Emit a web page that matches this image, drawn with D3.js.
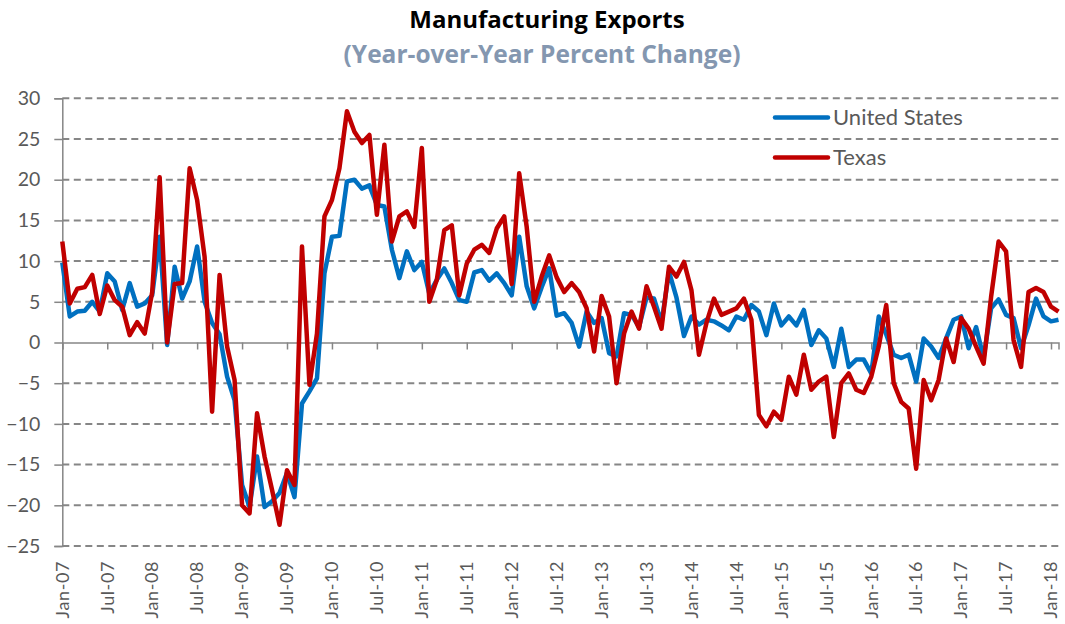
<!DOCTYPE html>
<html>
<head>
<meta charset="utf-8">
<script src="https://cdn.jsdelivr.net/npm/d3@7"></script>
<style>
  body { margin: 0; background: #fff; }
  svg { display: block; font-family: Lato, "Open Sans", sans-serif; }
</style>
</head>
<body>
<div id="chart"></div>
<script>
// monthly, Jan-07 .. Feb-18
const tickLabels = ["Jan-07","Jul-07","Jan-08","Jul-08","Jan-09","Jul-09","Jan-10","Jul-10",
  "Jan-11","Jul-11","Jan-12","Jul-12","Jan-13","Jul-13","Jan-14","Jul-14","Jan-15","Jul-15",
  "Jan-16","Jul-16","Jan-17","Jul-17","Jan-18"]

const us = [
  9.8, 3.2, 3.8, 3.9, 5.0, 3.8, 8.5, 7.5, 4.0, 7.3, 4.4, 4.8,          // 2007
  5.8, 13.0, -0.3, 9.3, 5.4, 7.5, 11.8, 5.0, 2.4, 1.0, -4.2, -7.1,    // 2008
  -17.5, -20.2, -14.0, -20.2, -19.5, -18.5, -16.0, -19.0, -7.5, -6.0, -4.4, 8.5, // 2009
  13.0, 13.1, 19.8, 20.0, 18.9, 19.3, 16.9, 16.7, 11.4, 7.9, 11.2, 8.9, // 2010
  9.9, 6.0, 7.7, 9.1, 7.3, 5.2, 5.0, 8.6, 8.9, 7.6, 8.5, 7.3,          // 2011
  5.8, 13.0, 6.9, 4.2, 6.8, 9.1, 3.3, 3.6, 2.4, -0.5, 3.8, 2.4,        // 2012
  3.0, -1.3, -1.7, 3.6, 3.4, 1.9, 5.5, 5.4, 2.4, 8.7, 5.5, 0.8,        // 2013
  3.2, 2.2, 2.8, 2.6, 2.1, 1.5, 3.2, 2.8, 4.6, 3.8, 0.9, 4.8,          // 2014
  2.1, 3.2, 2.1, 4.0, -0.3, 1.5, 0.5, -3.0, 1.7, -3.0, -2.1, -2.1,     // 2015
  -3.8, 3.2, 1.0, -1.5, -1.9, -1.5, -4.8, 0.5, -0.5, -1.9, 0.5, 2.8,   // 2016
  3.2, -0.7, 1.9, -1.9, 4.2, 5.3, 3.4, 3.0, -0.7, 2.1, 5.4, 3.2,       // 2017
  2.6, 2.8                                                             // 2018
]

const texas = [
  12.4, 4.8, 6.6, 6.8, 8.3, 3.5, 7.0, 5.2, 4.4, 0.9, 2.5, 1.1,          // 2007
  6.2, 20.3, 0.0, 7.2, 7.3, 21.4, 17.5, 10.5, -8.5, 8.3, -0.5, -4.6,    // 2008
  -20.0, -21.0, -8.7, -14.0, -18.1, -22.4, -15.7, -17.5, 11.8, -5.2, 1.1, 15.5, // 2009
  17.5, 21.4, 28.4, 25.9, 24.5, 25.5, 15.7, 24.3, 12.4, 15.5, 16.1, 14.2, // 2010
  23.9, 5.0, 7.7, 13.8, 14.4, 5.8, 9.7, 11.4, 12.0, 11.0, 14.0, 15.5,   // 2011
  7.2, 20.8, 14.2, 5.0, 8.1, 10.7, 8.0, 6.2, 7.3, 6.2, 4.2, -1.1,       // 2012
  5.7, 3.2, -5.0, 1.1, 3.8, 1.7, 6.9, 4.4, 1.7, 9.3, 8.1, 9.9,          // 2013
  6.4, -1.5, 2.4, 5.4, 3.4, 3.8, 4.2, 5.4, 2.8, -8.9, -10.3, -8.5,      // 2014
  -9.5, -4.2, -6.4, -1.5, -5.8, -4.8, -4.2, -11.6, -5.0, -3.8, -5.8, -6.2, // 2015
  -4.2, -0.5, 4.6, -5.0, -7.3, -8.1, -15.5, -4.6, -7.1, -4.6, 0.5, -2.4, // 2016
  3.0, 1.7, -0.5, -2.6, 5.6, 12.4, 11.2, 0.3, -3.0, 6.2, 6.7, 6.2,     // 2017
  4.4, 3.8                                                             // 2018
]

const yTicks = [30, 25, 20, 15, 10, 5, 0, -5, -10, -15, -20, -25]
const seriesNames = ["United States", "Texas"]
const seriesColors = ["#0070C0", "#C00000"]

const width = 1065, height = 624
const axisGray = "#868686", textGray = "#595959"

const svg = d3.select("#chart").append("svg")
  .attr("width", width)
  .attr("height", height)

const x = d3.scaleLinear()
  .domain([0, us.length - 1])
  .range([62.3, 1058.5])

const y = d3.scaleLinear()
  .domain([-25, 30])
  .range([546, 98.3])

// title
svg.append("text")
  .attr("x", 547).attr("y", 28)
  .attr("text-anchor", "middle")
  .style("font-family", "'Open Sans', sans-serif")
  .style("font-size", "24px").style("font-weight", "bold").style("fill", "#000")
  .text("Manufacturing Exports")

svg.append("text")
  .attr("x", 542).attr("y", 63)
  .attr("text-anchor", "middle")
  .style("font-family", "'Open Sans', sans-serif")
  .style("font-size", "24.5px").style("font-weight", "bold").style("fill", "#8497B0")
  .text("(Year-over-Year Percent Change)")

// gridlines (0 is the axis)
svg.append("g")
  .selectAll("line")
  .data(yTicks.filter(d => d !== 0))
  .enter()
  .append("line")
    .attr("x1", x(0)).attr("x2", x(us.length - 1))
    .attr("y1", d => y(d)).attr("y2", d => y(d))
    .style("stroke", axisGray)
    .style("stroke-width", 2)
    .style("stroke-dasharray", "7,4.5")

// y axis
const yAxis = svg.append("g")
  .attr("transform", `translate(${x(0)},0)`)
  .call(d3.axisLeft(y).tickValues(yTicks).tickSize(8).tickPadding(14).tickFormat(d3.format("d")))
yAxis.select(".domain").style("stroke", axisGray).style("stroke-width", 1.5)
yAxis.selectAll(".tick line").style("stroke", axisGray).style("stroke-width", 1.5)
yAxis.selectAll(".tick text")
  .style("font-size", "19.5px").style("fill", textGray).style("font-family", "Lato, sans-serif")

// x axis along zero
const tickIdx = tickLabels.map((t, i) => i * 6)
const xAxis = svg.append("g")
  .attr("transform", `translate(0,${y(0)})`)
  .call(d3.axisBottom(x).tickValues(tickIdx).tickSize(7).tickFormat(""))
xAxis.select(".domain").style("stroke", axisGray).style("stroke-width", 1.5)
xAxis.selectAll(".tick line").style("stroke", axisGray).style("stroke-width", 1.5)

// x labels at the bottom, rotated
svg.append("g")
  .selectAll("text")
  .data(tickLabels)
  .enter()
  .append("text")
    .attr("transform", (d, i) => `translate(${x(i * 6)},561) rotate(-90)`)
    .attr("text-anchor", "end")
    .attr("dy", "0.35em")
    .style("font-size", "18px")
    .style("letter-spacing", "0.6px")
    .style("fill", textGray)
    .text(d => d)

// lines
const line = d3.line()
  .x((d, i) => x(i))
  .y(d => y(d))

const allSeries = [us, texas]
svg.append("g")
  .selectAll("path")
  .data(allSeries)
  .enter()
  .append("path")
    .attr("d", line)
    .style("fill", "none")
    .style("stroke", (d, i) => seriesColors[i])
    .style("stroke-width", 4.5)
    .style("stroke-linejoin", "round")

// legend
const legend = svg.append("g")
  .selectAll("g")
  .data(seriesNames)
  .enter()
  .append("g")
    .attr("transform", (d, i) => `translate(775,${117.5 + i * 40})`)

legend.append("line")
  .attr("x1", 0).attr("x2", 53)
  .style("stroke", (d, i) => seriesColors[i])
  .style("stroke-width", 4.5)
  .style("stroke-linecap", "round")

legend.append("text")
  .attr("x", 58).attr("dy", "0.35em")
  .style("font-size", "22px").style("fill", textGray)
  .text(d => d)
</script>
</body>
</html>
